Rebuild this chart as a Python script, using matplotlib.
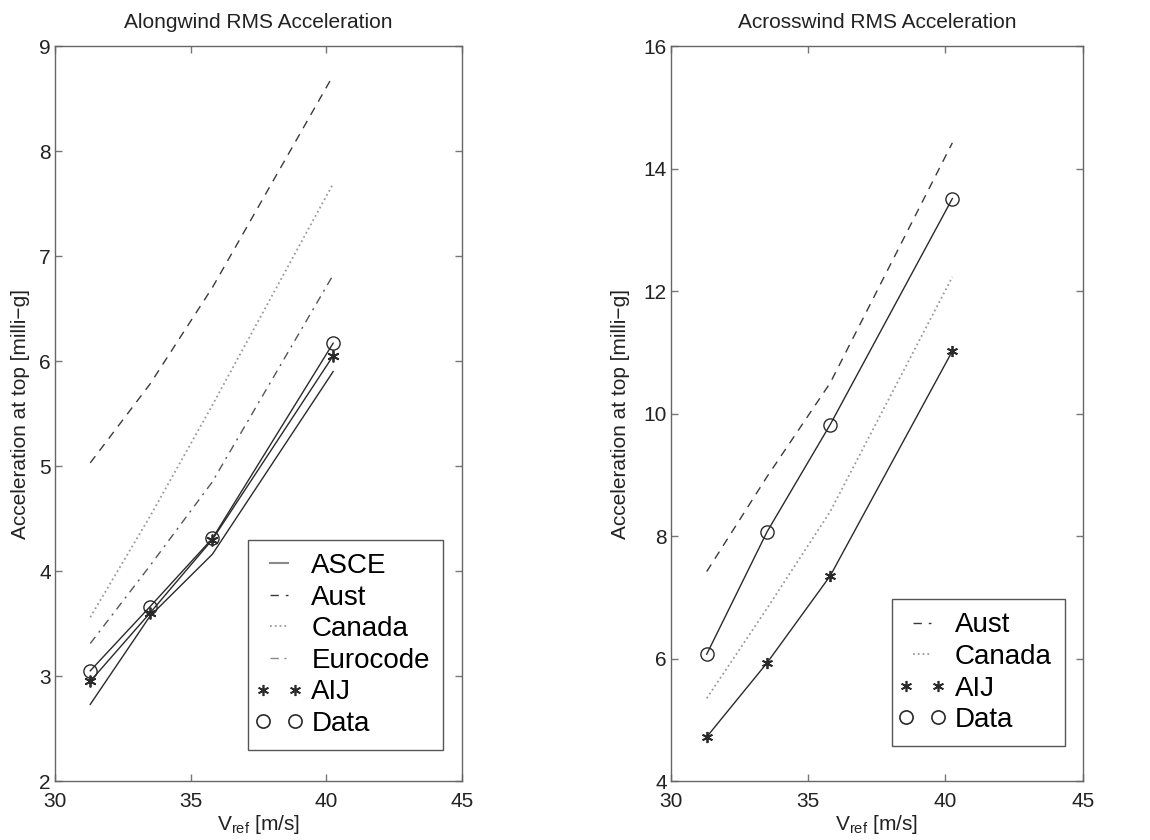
import matplotlib
matplotlib.use('Agg')
import matplotlib.pyplot as plt
from matplotlib.lines import Line2D
from matplotlib.legend_handler import HandlerLine2D

plt.rcParams['font.family'] = ['Liberation Sans', 'DejaVu Sans']
plt.rcParams['mathtext.default'] = 'regular'

# reference wind speeds [m/s]
v_ref = [31.3, 33.5, 35.8, 40.25]

# alongwind RMS acceleration [milli-g]
along_asce = [2.73, 3.57, 4.16, 5.90]
along_aust = [5.03, 5.78, 6.70, 8.72]
along_canada = [3.56, 4.52, 5.58, 7.69]
along_euro = [3.31, 4.05, 4.85, 6.82]
along_aij = [2.95, 3.60, 4.30, 6.05]
along_data = [3.05, 3.66, 4.31, 6.17]

# acrosswind RMS acceleration [milli-g]
across_aust = [7.42, 8.97, 10.50, 14.42]
across_canada = [5.35, 6.82, 8.40, 12.23]
across_aij = [4.72, 5.93, 7.35, 11.02]
across_data = [6.07, 8.07, 9.82, 13.51]

SOLID = '#2a2a2a'
DASH = '#3a3a3a'
DOT = '#9a9a9a'
DASHDOT = '#555555'
STAR = (6, 2, 0)

fig = plt.figure(figsize=(11.5, 8.4), dpi=100)
ax1 = fig.add_axes([0.0478, 0.0702, 0.354, 0.875])
ax2 = fig.add_axes([0.5835, 0.0702, 0.358, 0.875])


def style(ax, ylim, yticks, title, ylab_x):
    ax.set_xlim(30, 45)
    ax.set_xticks([30, 35, 40, 45])
    ax.set_ylim(*ylim)
    ax.set_yticks(yticks)
    ax.tick_params(direction='in', top=True, right=True, length=5,
                   width=1, color='#777777', labelcolor='#222222',
                   labelsize=15)
    ax.tick_params(axis='x', pad=8)
    ax.tick_params(axis='y', pad=3)
    for s in ax.spines.values():
        s.set_color('#666666')
        s.set_linewidth(1.0)
    ax.set_title(title, fontsize=15, color='#222222', pad=13)
    ax.set_xlabel('V$_{ref}$ [m/s]', fontsize=15, color='#222222', labelpad=1)
    ax.set_ylabel('Acceleration at top [milli\u2212g]', fontsize=15,
                  color='#222222')
    ax.yaxis.set_label_coords(ylab_x, 0.5)


def marker_handle(m, size):
    return Line2D([], [], ls='none', marker=m, markersize=size,
                  markerfacecolor='none', markeredgecolor=SOLID,
                  markeredgewidth=1.2)


def add_legend(ax, handles, labels, anchor):
    hmap = {h: HandlerLine2D(marker_pad=0.05, numpoints=2)
            for h in handles if h.get_linestyle() == 'None'}
    leg = ax.legend(handles, labels, loc='lower left', bbox_to_anchor=anchor,
                    borderaxespad=0, fontsize=20, numpoints=2,
                    handlelength=1.25, handletextpad=0.55, labelspacing=0.2,
                    borderpad=0.48, fancybox=False, framealpha=1,
                    edgecolor='#555555', handler_map=hmap)
    leg.get_frame().set_linewidth(1.0)
    return leg


# left panel: alongwind
ax1.plot(v_ref, along_aust, color=DASH, lw=1.0, dashes=(6, 5))
ax1.plot(v_ref, along_canada, color=DOT, lw=1.3, ls=':')
ax1.plot(v_ref, along_euro, color=DASHDOT, lw=1.0, dashes=(6, 4, 1.5, 4))
ax1.plot(v_ref, along_asce, color=SOLID, lw=1.0)
ax1.plot(v_ref, along_aij, color=SOLID, lw=1.0)
ax1.plot(v_ref, along_data, color=SOLID, lw=1.0)
ax1.plot(v_ref, along_aij, ls='none', marker=STAR, markersize=8.5,
         markeredgecolor=SOLID, markeredgewidth=1.3)
ax1.plot(v_ref, along_data, ls='none', marker='o', markersize=9.5,
         markerfacecolor='none', markeredgecolor=SOLID, markeredgewidth=1.0)
style(ax1, (2, 9), range(2, 10), 'Alongwind RMS Acceleration', -0.061)

h1 = [Line2D([], [], color='#8a8a8a', lw=1.5),
      Line2D([], [], color=DASH, lw=1.0, dashes=(6, 5)),
      Line2D([], [], color=DOT, lw=1.3, ls=':'),
      Line2D([], [], color='#8a8a8a', lw=1.0, dashes=(6, 4, 1.5, 4)),
      marker_handle(STAR, 8),
      marker_handle('o', 9.5)]
add_legend(ax1, h1, ['ASCE', 'Aust', 'Canada', 'Eurocode', 'AIJ', 'Data'],
           (0.474, 0.042))

# right panel: acrosswind
ax2.plot(v_ref, across_aust, color=DASH, lw=1.0, dashes=(6, 5))
ax2.plot(v_ref, across_canada, color=DOT, lw=1.3, ls=':')
ax2.plot(v_ref, across_aij, color=SOLID, lw=1.0)
ax2.plot(v_ref, across_data, color=SOLID, lw=1.0)
ax2.plot(v_ref, across_aij, ls='none', marker=STAR, markersize=8,
         markeredgecolor=SOLID, markeredgewidth=1.3)
ax2.plot(v_ref, across_data, ls='none', marker='o', markersize=9.5,
         markerfacecolor='none', markeredgecolor=SOLID, markeredgewidth=1.0)
style(ax2, (4, 16), range(4, 17, 2), 'Acrosswind RMS Acceleration', -0.0995)

h2 = [Line2D([], [], color=DASH, lw=1.0, dashes=(6, 5)),
      Line2D([], [], color=DOT, lw=1.3, ls=':'),
      marker_handle(STAR, 8),
      marker_handle('o', 9.5)]
add_legend(ax2, h2, ['Aust', 'Canada', 'AIJ', 'Data'], (0.536, 0.047))

fig.savefig('out.png', dpi=100)
